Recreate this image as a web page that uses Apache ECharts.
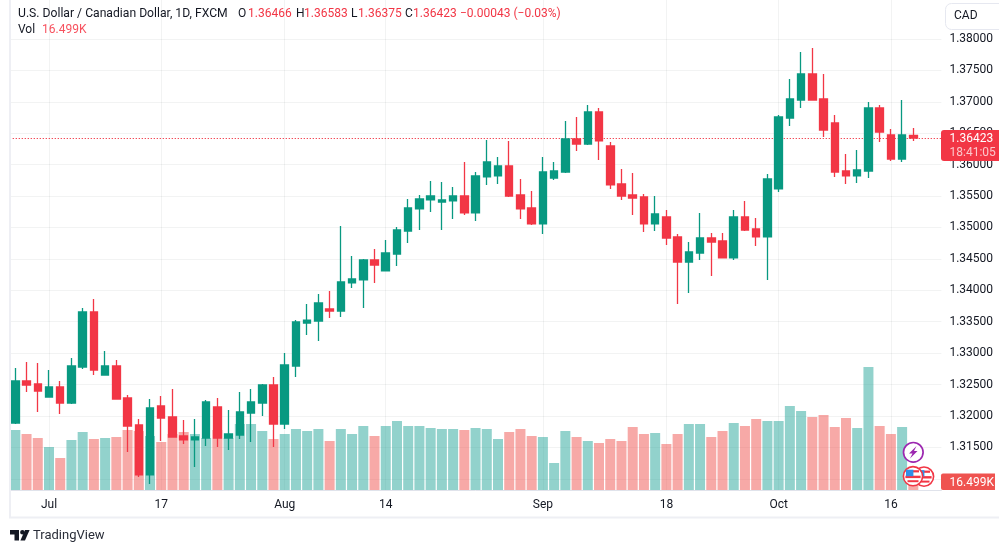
<!DOCTYPE html>
<html>
<head>
<meta charset="utf-8">
<script src="https://cdn.jsdelivr.net/npm/echarts@6/dist/echarts.min.js"></script>
<style>html,body{margin:0;padding:0;background:#fff}#c{width:999px;height:553px}</style>
</head>
<body>
<div id="c"></div>
<script>
const dates = ["Jun 28","Jun 29","Jun 30","Jul 3","Jul 4","Jul 5","Jul 6","Jul 7","Jul 10","Jul 11","Jul 12","Jul 13","Jul 14","Jul 17","Jul 18","Jul 19","Jul 20","Jul 21","Jul 24","Jul 25","Jul 26","Jul 27","Jul 28","Jul 31","Aug 1","Aug 2","Aug 3","Aug 4","Aug 7","Aug 8","Aug 9","Aug 10","Aug 11","Aug 14","Aug 15","Aug 16","Aug 17","Aug 18","Aug 21","Aug 22","Aug 23","Aug 24","Aug 25","Aug 28","Aug 29","Aug 30","Aug 31","Sep 1","Sep 4","Sep 5","Sep 6","Sep 7","Sep 8","Sep 11","Sep 12","Sep 13","Sep 14","Sep 15","Sep 18","Sep 19","Sep 20","Sep 21","Sep 22","Sep 25","Sep 26","Sep 27","Sep 28","Sep 29","Oct 2","Oct 3","Oct 4","Oct 5","Oct 6","Oct 9","Oct 10","Oct 11","Oct 12","Oct 13","Oct 16","Oct 17","Oct 18","",""];
const opens = [1.31888,1.32557,1.32509,1.32302,1.32461,1.32206,1.32779,1.33655,1.32652,1.32795,1.32286,1.31856,1.31061,1.32159,1.31984,1.31681,1.31618,1.31649,1.32143,1.31649,1.31697,1.32047,1.32206,1.32493,1.31872,1.32795,1.3348,1.33511,1.33703,1.33671,1.34117,1.34165,1.34483,1.34308,1.34578,1.34944,1.35295,1.35438,1.35406,1.35422,1.35501,1.35231,1.35804,1.3582,1.35979,1.35517,1.3531,1.35056,1.35788,1.35883,1.36409,1.36329,1.36838,1.36297,1.35692,1.35517,1.35485,1.35056,1.35167,1.34849,1.34451,1.34594,1.34833,1.34785,1.34515,1.35167,1.34976,1.34849,1.35613,1.36743,1.37029,1.37443,1.37045,1.36663,1.35899,1.3582,1.35899,1.36902,1.36472,1.3609,1.36466];
const closes = [1.32557,1.32493,1.32397,1.32461,1.32206,1.32795,1.33655,1.32732,1.32795,1.3227,1.3184,1.31061,1.32127,1.31968,1.31665,1.31618,1.31665,1.32222,1.31649,1.31713,1.32063,1.32222,1.32493,1.31872,1.32811,1.33496,1.33527,1.33798,1.33671,1.34133,1.34181,1.34483,1.34403,1.34594,1.3496,1.3531,1.35454,1.35501,1.35438,1.35501,1.35231,1.3582,1.36043,1.35979,1.35501,1.35295,1.35056,1.35883,1.35899,1.36409,1.36329,1.36838,1.36377,1.35677,1.35501,1.35469,1.35056,1.35215,1.34833,1.34451,1.3461,1.34833,1.34769,1.34515,1.35167,1.3496,1.34849,1.35772,1.36759,1.37045,1.37443,1.37029,1.36552,1.35883,1.3582,1.35915,1.36902,1.3652,1.3609,1.36472,1.36423];
const lows = [1.31872,1.32382,1.32063,1.32302,1.32031,1.32191,1.32748,1.32652,1.32652,1.3227,1.31427,1.31029,1.30917,1.31602,1.31665,1.31554,1.31188,1.31522,1.31506,1.31458,1.31634,1.31586,1.32,1.31506,1.31793,1.3262,1.33289,1.33193,1.3356,1.33576,1.34037,1.33719,1.34117,1.34308,1.34387,1.34753,1.3496,1.35247,1.3496,1.35135,1.35199,1.35104,1.35677,1.35692,1.35486,1.35135,1.3504,1.34897,1.35756,1.35867,1.36218,1.36313,1.36074,1.35613,1.35438,1.35199,1.34928,1.34944,1.34721,1.33782,1.33957,1.34483,1.34228,1.34515,1.34483,1.34944,1.34706,1.34164,1.35565,1.36615,1.36902,1.37029,1.3644,1.35804,1.35692,1.35708,1.35788,1.36361,1.36058,1.36042,1.36375];
const highs = [1.32763,1.32859,1.32843,1.32732,1.32557,1.32923,1.33718,1.33862,1.33034,1.32891,1.32334,1.31952,1.3227,1.32318,1.32429,1.31936,1.31952,1.32254,1.32286,1.32095,1.32382,1.32429,1.32509,1.3262,1.33002,1.33527,1.33782,1.33941,1.3399,1.35024,1.34547,1.34499,1.34658,1.34801,1.35008,1.35454,1.35517,1.3574,1.35724,1.35645,1.36043,1.35883,1.36393,1.36122,1.36377,1.35772,1.35581,1.36122,1.36043,1.36695,1.36759,1.3695,1.36902,1.36361,1.35931,1.35867,1.35533,1.35501,1.35278,1.34896,1.34769,1.35231,1.34912,1.34912,1.35278,1.35422,1.35151,1.35851,1.3679,1.37363,1.37793,1.37857,1.37443,1.3679,1.3617,1.36233,1.36997,1.3695,1.36568,1.37029,1.36583];
const volumes = [130.2,121.5,112.8,93.3,69.4,108.5,125.9,110.7,112.8,115,130.2,128,117.2,104.2,121.5,125.9,121.5,112.8,130.2,112.8,143.2,143.2,128,110.7,121.5,132.4,128,132.4,106.3,132.4,121.5,138.9,117.2,138.9,149.7,138.9,138.9,134.5,132.4,132.4,130.2,134.5,132.4,110.7,125.9,132.4,117.2,115,58.6,128,115,106.3,102,110.7,106.3,136.7,121.5,123.7,99.8,121.5,143.2,143.2,115,128,145.4,138.9,154.1,149.7,149.7,182.3,171.4,158.4,162.8,136.7,156.2,134.5,266.9,138.9,121.5,136.7,16.499];
const xTickDates = {"Jul 3":"Jul","Jul 17":"17","Aug 1":"Aug","Aug 14":"14","Sep 1":"Sep","Sep 18":"18","Oct 2":"Oct","Oct 16":"16"};
const yTickLabels = ["1.31500","1.32000","1.32500","1.33000","1.33500","1.34000","1.34500","1.35000","1.35500","1.36000","1.36500","1.37000","1.37500","1.38000"];
const lastPrice = 1.36423;

const UP = '#089981', DOWN = '#F23645', TXT = '#131722', FONT = 'Roboto';
const GL = 9.7, GW = 931.7;
const isTick = (i) => Object.prototype.hasOwnProperty.call(xTickDates, dates[i]);

const candleData = opens.map((o, i) => [o, closes[i], lows[i], highs[i]]);
const volData = volumes.map((v, i) => ({
  value: v,
  itemStyle: { color: closes[i] >= opens[i] ? 'rgba(38,166,154,0.5)' : 'rgba(239,83,80,0.5)' }
}));

const t = (x, y, text, fill, size, extra) => ({
  type: 'text', z: 100, silent: true,
  style: Object.assign({ x, y, text, fill, font: (size || 12) + 'px ' + FONT, verticalAlign: 'middle', align: 'left' }, extra || {})
});
const poly = (points, fill) => ({ type: 'polygon', z: 100, silent: true, shape: { points }, style: { fill } });
const rect = (x, y, width, height, fill, r, stroke) => ({ type: 'rect', z: 100, silent: true, shape: { x, y, width, height, r: r || 0 }, style: { fill, stroke: stroke || null } });
const flag = (cx, cy, z) => {
  const parts = [
    { type: 'circle', shape: { cx, cy, r: 9.6 }, style: { fill: '#fff', stroke: DOWN, lineWidth: 1.6 } },
    { type: 'rect', shape: { x: cx - 7.6, y: cy - 0.5, width: 15.2, height: 2.4 }, style: { fill: DOWN } },
    { type: 'rect', shape: { x: cx - 5.5, y: cy + 4, width: 11, height: 2 }, style: { fill: DOWN } },
    { type: 'rect', shape: { x: cx, y: cy - 6, width: 6, height: 2.2 }, style: { fill: DOWN } },
    { type: 'rect', shape: { x: cx - 7, y: cy - 6.5, width: 7.4, height: 6.5 }, style: { fill: '#2f8fe8' } }
  ];
  return { type: 'group', z, silent: true, children: parts.map(p => Object.assign({ z, silent: true }, p)) };
};

const graphic = [
  rect(9, 0, 2, 518, '#EEEFF4'),
  rect(9, 516.5, 990, 2, '#EEEFF4'),
  rect(945.5, 3.5, 60, 26, '#fff', 6, '#E6E8F0'),
  t(954, 16, 'CAD', TXT, 12),
  t(18, 14, 'U.S. Dollar / Canadian Dollar, 1D, FXCM', TXT, 12.17),
  t(238, 14, 'O', TXT, 12), t(248, 14, '1.36466', DOWN, 12),
  t(296, 14, 'H', TXT, 12), t(304, 14, '1.36583', DOWN, 12),
  t(351, 14, 'L', TXT, 12), t(358, 14, '1.36375', DOWN, 12),
  t(405, 14, 'C', TXT, 12), t(413, 14, '1.36423', DOWN, 12),
  t(460, 14, '\u22120.00043 (\u22120.03%)', DOWN, 12),
  t(18, 30, 'Vol', TXT, 12), t(42, 30, '16.499K', '#F7525F', 12),
  rect(941, 130, 60, 31, DOWN, [3, 0, 0, 3]),
  t(949.5, 138.8, '1.36423', '#fff', 12),
  t(949.5, 153, '18:41:05', 'rgba(255,255,255,0.72)', 12),
  rect(941, 473.5, 54, 16.5, '#EF5350', [2, 0, 0, 2]),
  t(949.5, 482.5, '16.499K', '#fff', 12),
  { type: 'circle', z: 110, silent: true, shape: { cx: 913.3, cy: 452.3, r: 9.8 }, style: { fill: '#fff', stroke: '#9C27B0', lineWidth: 1.7 } },
  Object.assign(poly([[916.5, 446], [909, 453.5], [912.5, 453.5], [910, 458.5], [917.5, 451], [914, 451]], '#9C27B0'), { z: 111 }),
  flag(924, 476.6, 112),
  flag(913, 476.2, 113),
  poly([[10, 530], [19, 530], [19, 540.5], [14.5, 540.5], [14.5, 534.6], [10, 534.6]], '#131722'),
  { type: 'circle', z: 100, silent: true, shape: { cx: 22.4, cy: 532.3, r: 2.3 }, style: { fill: '#131722' } },
  poly([[25, 530], [29.6, 530], [25, 540.5], [20.4, 540.5]], '#131722'),
  t(33, 535.5, 'TradingView', '#2A2E39', 13)
];

const option = {
  animation: false,
  backgroundColor: '#fff',
  textStyle: { fontFamily: FONT },
  grid: [
    { left: GL, top: 0, width: GW, height: 490, containLabel: false },
    { left: GL, top: 39, width: GW, height: 439.8, containLabel: false }
  ],
  xAxis: [
    {
      type: 'category', gridIndex: 0, data: dates, boundaryGap: true,
      axisLine: { show: true, lineStyle: { color: '#E0E3EB', width: 1 } },
      axisTick: { show: false },
      axisLabel: {
        show: true, interval: (i) => isTick(i), margin: 9, hideOverlap: false,
        color: TXT, fontSize: 12, fontFamily: FONT,
        formatter: (v) => xTickDates[v] || ''
      },
      splitLine: { show: true, alignWithLabel: true, interval: (i) => isTick(i), lineStyle: { color: 'rgba(42,46,57,0.06)', width: 1 } }
    },
    { type: 'category', gridIndex: 1, data: dates, boundaryGap: true, show: false }
  ],
  yAxis: [
    { type: 'value', gridIndex: 0, min: 0, max: 1063.3, show: false, splitLine: { show: false } },
    {
      type: 'value', gridIndex: 1, position: 'right', min: 1.31, max: 1.38, interval: 0.005, scale: true,
      axisLine: { show: false }, axisTick: { show: false },
      axisLabel: {
        show: true, margin: 8, color: TXT, fontSize: 12, fontFamily: FONT, padding: [2, 0, 0, 0],
        formatter: (v) => { const s = v.toFixed(5); return yTickLabels.includes(s) ? s : ''; }
      },
      splitLine: { show: true, lineStyle: { color: 'rgba(42,46,57,0.06)', width: 1 } }
    }
  ],
  series: [
    { name: 'Vol', type: 'bar', xAxisIndex: 0, yAxisIndex: 0, data: volData, barWidth: 10, z: 2, silent: true },
    {
      name: 'USDCAD', type: 'candlestick', xAxisIndex: 1, yAxisIndex: 1, data: candleData, barWidth: 8, z: 5, clip: false, silent: true,
      itemStyle: { color: UP, color0: DOWN, borderColor: UP, borderColor0: DOWN, borderWidth: 1.3 },
      markLine: {
        silent: true, symbol: 'none', label: { show: false }, animation: false, precision: 5,
        lineStyle: { color: DOWN, type: [1.2, 1.8], width: 1 },
        data: [{ yAxis: lastPrice }]
      }
    }
  ],
  graphic: { elements: graphic }
};
echarts.init(document.getElementById('c'), null, { renderer: 'canvas' }).setOption(option);
</script>
</body>
</html>
